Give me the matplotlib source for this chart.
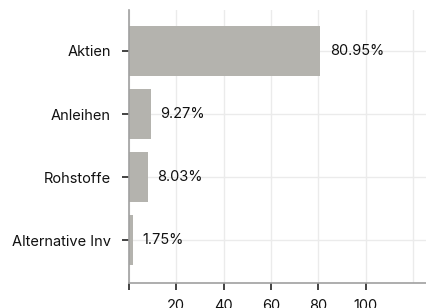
import matplotlib
matplotlib.use("Agg")
import matplotlib.pyplot as plt

categories = ["Aktien", "Anleihen", "Rohstoffe", "Alternative Inv"]
values = [80.95, 9.27, 8.03, 1.75]
xticks = [0, 20, 40, 60, 80, 100]
xticklabels = ["", "20", "40", "60", "80", "100"]

plt.rcParams['font.family'] = ['Inter', 'DejaVu Sans']

fig = plt.figure(figsize=(4.27, 3.08), dpi=100)
ax = fig.add_axes([129/427, 1 - 283/308, 1 - 129/427, (283 - 10)/308])

y = list(range(len(categories)))
ax.barh(y, values, height=0.79, color="#b4b3ae", zorder=2)
for yi, v in zip(y, values):
    ax.text(v + 4, yi, f"{v:.2f}%", va="center", ha="left", fontsize=10.5, color="#111111", zorder=3)

ax.set_yticks(y)
ax.set_yticklabels(categories, fontsize=10.5, color="#111111")
ax.set_ylim(3.68, -0.65)
ax.set_xlim(0, 126)
ax.set_xticks(xticks)
ax.set_xticklabels(xticklabels, fontsize=10.5, color="#111111")
ax.set_xticks([120], minor=True)
ax.tick_params(axis="x", which="minor", length=0)
ax.grid(True, which="both", color="#ebebeb", linewidth=1, zorder=0)
ax.set_axisbelow(True)

for s in ["top", "right"]:
    ax.spines[s].set_visible(False)
for s in ["left", "bottom"]:
    ax.spines[s].set_color("#a0a0a0")
    ax.spines[s].set_linewidth(1.2)
ax.tick_params(axis="both", which="major", length=5, width=1.2, color="#222222")
ax.tick_params(axis="y", pad=8)
ax.tick_params(axis="x", pad=6.5)

fig.savefig("out.png", dpi=100)
